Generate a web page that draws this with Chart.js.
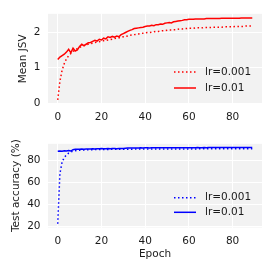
<!DOCTYPE html>
<html>
<head>
<meta charset="utf-8">
<script src="https://cdn.jsdelivr.net/npm/chart.js@4.4.1/dist/chart.umd.min.js"></script>
<style>
  html, body { margin: 0; padding: 0; background: #ffffff; }
  body { width: 274px; height: 274px; position: relative; overflow: hidden; }
  canvas { position: absolute; left: 0; }
  #c1 { top: 0; }
  #c2 { top: 130px; }
</style>
</head>
<body>
<canvas id="c1" width="274" height="130"></canvas>
<canvas id="c2" width="274" height="144"></canvas>
<script>
// ---------------- data ----------------
const seriesLabels = ['lr=0.001', 'lr=0.01'];
const xTicks = [0, 20, 40, 60, 80];
const jsvTicks = [0, 1, 2];
const accTicks = [20, 40, 60, 80];

const jsvLr001 = [
  0.10, 0.62, 0.93, 1.12, 1.25, 1.34, 1.40, 1.46, 1.50, 1.54,
  1.57, 1.60, 1.62, 1.64, 1.66, 1.68, 1.69, 1.71, 1.72, 1.73,
  1.75, 1.76, 1.77, 1.78, 1.79, 1.80, 1.82, 1.83, 1.84, 1.85,
  1.87, 1.88, 1.89, 1.91, 1.92, 1.93, 1.94, 1.95, 1.96, 1.97,
  1.98, 1.99, 1.99, 2.00, 2.01, 2.02, 2.02, 2.03, 2.04, 2.04,
  2.05, 2.06, 2.06, 2.07, 2.07, 2.08, 2.09, 2.09, 2.10, 2.10,
  2.11, 2.11, 2.11, 2.12, 2.12, 2.12, 2.12, 2.13, 2.13, 2.13,
  2.13, 2.14, 2.14, 2.14, 2.14, 2.14, 2.15, 2.15, 2.15, 2.15,
  2.15, 2.16, 2.16, 2.16, 2.16, 2.16, 2.17, 2.17, 2.17, 2.17
];
const jsvLr01 = [
  1.23, 1.30, 1.34, 1.38, 1.44, 1.52, 1.42, 1.55, 1.47, 1.50,
  1.60, 1.66, 1.62, 1.66, 1.70, 1.71, 1.74, 1.77, 1.75, 1.80,
  1.78, 1.83, 1.81, 1.87, 1.85, 1.88, 1.86, 1.89, 1.87, 1.93,
  1.96, 1.99, 2.02, 2.05, 2.07, 2.10, 2.11, 2.12, 2.13, 2.14,
  2.16, 2.17, 2.17, 2.19, 2.18, 2.21, 2.21, 2.23, 2.22, 2.25,
  2.26, 2.27, 2.26, 2.29, 2.30, 2.31, 2.32, 2.33, 2.35, 2.35,
  2.36, 2.36, 2.36, 2.37, 2.37, 2.37, 2.37, 2.37, 2.38, 2.38,
  2.38, 2.38, 2.38, 2.38, 2.38, 2.39, 2.39, 2.39, 2.39, 2.39,
  2.39, 2.39, 2.39, 2.39, 2.40, 2.40, 2.40, 2.40, 2.40, 2.40
];
const accLr001 = [
  22.5, 68.0, 78.5, 82.5, 85.0, 86.5, 87.5, 88.2, 88.6, 89.0,
  89.2, 89.3, 89.4, 89.5, 89.5, 89.6, 89.6, 89.7, 89.7, 89.7,
  89.8, 89.8, 89.8, 89.8, 89.9, 89.9, 89.9, 89.9, 90.0, 90.0,
  90.0, 90.0, 90.1, 90.1, 90.1, 90.1, 90.2, 90.2, 90.2, 90.2,
  90.2, 90.2, 90.2, 90.2, 90.2, 90.2, 90.3, 90.2, 90.3, 90.3,
  90.3, 90.3, 90.3, 90.3, 90.3, 90.3, 90.3, 90.3, 90.3, 90.3,
  90.3, 90.3, 90.4, 90.3, 90.4, 90.4, 90.4, 90.4, 90.4, 90.4,
  90.4, 90.4, 90.4, 90.4, 90.4, 90.4, 90.4, 90.4, 90.5, 90.4,
  90.5, 90.5, 90.5, 90.5, 90.5, 90.5, 90.5, 90.5, 90.5, 90.5
];
const accLr01 = [
  88.2, 88.4, 88.3, 88.7, 88.5, 88.9, 88.4, 89.6, 90.0, 89.9,
  90.1, 90.2, 90.1, 90.3, 90.3, 90.2, 90.4, 90.3, 90.4, 90.5,
  90.6, 90.5, 90.5, 90.6, 90.5, 90.6, 90.6, 90.5, 90.6, 90.6,
  90.7, 91.0, 91.1, 91.1, 91.2, 91.1, 91.2, 91.2, 91.3, 91.2,
  91.3, 91.3, 91.2, 91.3, 91.3, 91.3, 91.3, 91.4, 91.3, 91.3,
  91.4, 91.4, 91.3, 91.4, 91.4, 91.4, 91.4, 91.4, 91.4, 91.4,
  91.4, 91.4, 91.4, 91.4, 91.5, 91.4, 91.4, 91.5, 91.4, 91.5,
  91.5, 91.5, 91.5, 91.5, 91.5, 91.5, 91.5, 91.5, 91.5, 91.5,
  91.5, 91.5, 91.5, 91.5, 91.5, 91.5, 91.5, 91.5, 91.5, 91.5
];

// ---------------- helpers ----------------
const FONT = '"DejaVu Sans", "Liberation Sans", sans-serif';
const FS = 10.5;
const TXT = '#1a1a1a';
const toPts = arr => arr.map((v, i) => ({ x: i, y: v }));
function limits(arrs) {
  const all = [].concat(...arrs);
  const lo = Math.min(...all), hi = Math.max(...all);
  const m = (hi - lo) * 0.05;
  return { min: lo - m, max: hi + m };
}
const xLim = (() => { const n = jsvLr01.length - 1; const m = n * 0.05; return { min: -m, max: n + m }; })();

const bgPlugin = {
  id: 'bgPlugin',
  beforeDraw(chart) {
    const a = chart.chartArea, ctx = chart.ctx;
    ctx.save();
    ctx.fillStyle = '#f2f2f2';
    ctx.fillRect(a.left, a.top, a.right - a.left, a.bottom - a.top);
    ctx.restore();
  }
};
const insideLegend = {
  id: 'insideLegend',
  afterDatasetsDraw(chart, args, opts) {
    const ctx = chart.ctx;
    ctx.save();
    opts.rows.forEach((y, i) => {
      const ds = chart.data.datasets[i];
      ctx.strokeStyle = ds.borderColor;
      ctx.lineWidth = ds.borderWidth;
      ctx.lineCap = 'butt';
      ctx.setLineDash(ds.borderDash || []);
      ctx.beginPath();
      ctx.moveTo(opts.x0, y);
      ctx.lineTo(opts.x1, y);
      ctx.stroke();
      ctx.setLineDash([]);
      ctx.fillStyle = TXT;
      ctx.font = FS + 'px ' + FONT;
      ctx.textBaseline = 'middle';
      ctx.textAlign = 'left';
      ctx.fillText(ds.label, opts.tx, y);
    });
    ctx.restore();
  }
};

function makeChart(id, cfg) {
  const yl = limits(cfg.series);
  return new Chart(document.getElementById(id), {
    type: 'line',
    data: {
      datasets: [
        { label: seriesLabels[0], data: toPts(cfg.series[0]), borderColor: cfg.color,
          borderWidth: 1.5, borderDash: [1.5, 2.5], pointRadius: 0, tension: 0, order: 1, fill: false },
        { label: seriesLabels[1], data: toPts(cfg.series[1]), borderColor: cfg.color,
          borderWidth: 1.5, pointRadius: 0, tension: 0, order: 0, fill: false }
      ]
    },
    options: {
      responsive: false,
      animation: false,
      devicePixelRatio: 1,
      layout: { padding: { left: 0, right: 12, top: cfg.top, bottom: 0 } },
      plugins: {
        legend: { display: false },
        tooltip: { enabled: false },
        insideLegend: cfg.legend
      },
      scales: {
        x: {
          type: 'linear', min: xLim.min, max: xLim.max,
          afterBuildTicks: s => { s.ticks = xTicks.map(v => ({ value: v })); },
          afterFit: s => { s.height = cfg.xh; },
          grid: { color: '#ffffff', lineWidth: 1, drawTicks: false },
          border: { display: false },
          ticks: { font: { family: FONT, size: FS }, color: TXT, padding: 7, maxRotation: 0 },
          title: cfg.xTitle
            ? { display: true, text: cfg.xTitle, font: { family: FONT, size: FS }, color: TXT, padding: { top: 0, bottom: cfg.xTitlePad } }
            : { display: false }
        },
        y: {
          type: 'linear', min: yl.min, max: yl.max,
          afterBuildTicks: s => { s.ticks = cfg.yTicks.map(v => ({ value: v })); },
          afterFit: s => { s.width = 48; },
          grid: { color: '#ffffff', lineWidth: 1, drawTicks: false },
          border: { display: false },
          ticks: { font: { family: FONT, size: FS }, color: TXT, padding: 7.5 },
          title: { display: true, text: cfg.yTitle, font: { family: FONT, size: FS }, color: TXT,
                   padding: { top: cfg.yTitlePad, bottom: 0 } }
        }
      }
    },
    plugins: [bgPlugin, insideLegend]
  });
}

makeChart('c1', {
  series: [jsvLr001, jsvLr01], color: '#ff0000', yTicks: jsvTicks,
  top: 11.5, xh: 26.1, yTitle: 'Mean JSV', yTitlePad: 16.7,
  legend: { x0: 174, x1: 196, tx: 205, rows: [72, 88] }
});
makeChart('c2', {
  series: [accLr001, accLr01], color: '#0000ff', yTicks: accTicks,
  top: 5.1, xh: 46.5, yTitle: 'Test accuracy (%)', yTitlePad: 10.4,
  xTitle: 'Epoch', xTitlePad: 13.2,
  legend: { x0: 174, x1: 196, tx: 205, rows: [67.7, 82.3] }
});
</script>
</body>
</html>
